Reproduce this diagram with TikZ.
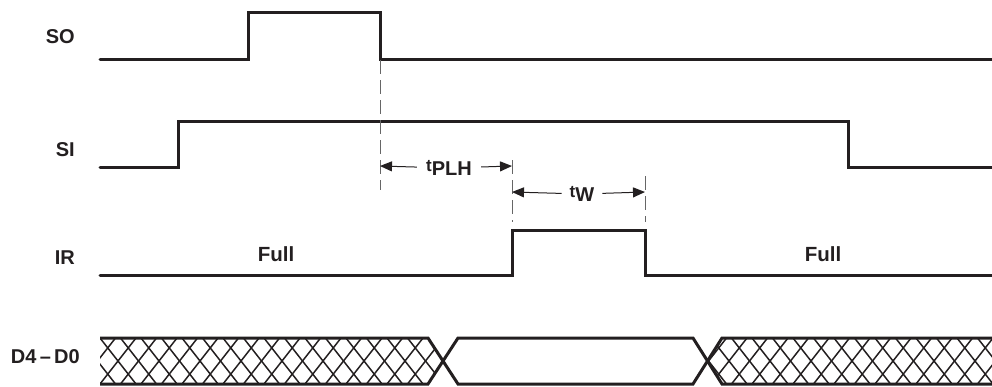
\documentclass[tikz,border=0pt]{standalone}
\usepackage{fontspec}
\setmainfont{Liberation Sans}
\usetikzlibrary{arrows.meta}
\definecolor{ink}{HTML}{231F20}
\newcommand\tname[1]{{\fontsize{17}{17}\selectfont t}\raisebox{-0.4em}{\fontsize{20}{20}\selectfont #1}}
\begin{document}
\begin{tikzpicture}[x=1pt,y=-1pt,
  sig/.style={line width=3pt, line cap=round, line join=miter, draw=ink},
  lbl/.style={font=\fontsize{20}{20}\selectfont\bfseries, text=ink, anchor=east, inner sep=0pt},
  full/.style={font=\fontsize{20.5}{20}\selectfont\bfseries, text=ink, inner sep=0pt},
  guide/.style={draw=gray!80!black, line width=1pt, dash pattern=on 14pt off 6pt},
  dim/.style={draw=ink, line width=1pt, -{Triangle[length=12pt,width=10pt]}},
  dimlbl/.style={font=\bfseries, text=ink, inner ysep=0pt},
  hatch/.style={draw=ink, line width=1.5pt}]
\useasboundingbox (0,0) rectangle (992,386);

% labels
\node[lbl] (lso) at (75,37) {SO};
\node[lbl] (lsi) at (75,150) {SI};
\node[lbl] (lir) at (75,258) {IR};
\node[lbl] (ld) at (80,357) {D4\,–\,D0};
\node[full] (full1) at (276,254) {Full};
\node[full] (full2) at (823,254) {Full};

% signals
\draw[sig] (100,59) -- (248,59) -- (248,12) -- (380,12) -- (380,59) -- (996,59);
\draw[sig] (100,167) -- (178,167) -- (178,121) -- (848,121) -- (848,167) -- (996,167);
\draw[sig] (100,275) -- (512,275) -- (512,230) -- (645,230) -- (645,275) -- (996,275);

% guide lines
\coordinate (g1a) at (380,60);
\coordinate (g1b) at (380,190);
\coordinate (g2a) at (512,160);
\coordinate (g2b) at (512,222);
\coordinate (g3a) at (645,176);
\coordinate (g3b) at (645,222);
\draw[guide] (g1a) -- (g1b);
\draw[guide] (g2a) -- (g2b);
\draw[guide] (g3a) -- (g3b);

% dimension arrows
\coordinate (p1) at (380,166);
\coordinate (p2) at (512,166);
\coordinate (w1) at (512,192);
\coordinate (w2) at (645,192);
\node[dimlbl, inner xsep=9pt] (tplh) at (449,168) {\tname{PLH}};
\node[dimlbl, inner xsep=8pt] (tw) at (582,194) {\tname{W}};
\draw[dim] (tplh) -- (p1);
\draw[dim] (tplh) -- (p2);
\draw[dim] (tw) -- (w1);
\draw[dim] (tw) -- (w2);

% data bus hatching
\begin{scope}
  \clip (100,338) -- (428,338) -- (443,361) -- (428,384) -- (100,384) -- cycle;
  \foreach \x in {59,79.5,...,460} {
    \draw[hatch] (\x,338) -- ++(36,46);
    \draw[hatch] (\x,384) -- ++(36,-46);
  }
\end{scope}
\begin{scope}
  \clip (722,338) -- (996,338) -- (996,384) -- (722,384) -- (707,361) -- cycle;
  \foreach \x in {670,690.5,...,1000} {
    \draw[hatch] (\x,338) -- ++(36,46);
    \draw[hatch] (\x,384) -- ++(36,-46);
  }
\end{scope}
\draw[sig, line cap=butt] (100,338) -- (428,338) -- (458,384) -- (693,384) -- (722,338) -- (996,338);
\draw[sig, line cap=butt] (100,384) -- (428,384) -- (458,338) -- (693,338) -- (722,384) -- (996,384);
\end{tikzpicture}
\end{document}
